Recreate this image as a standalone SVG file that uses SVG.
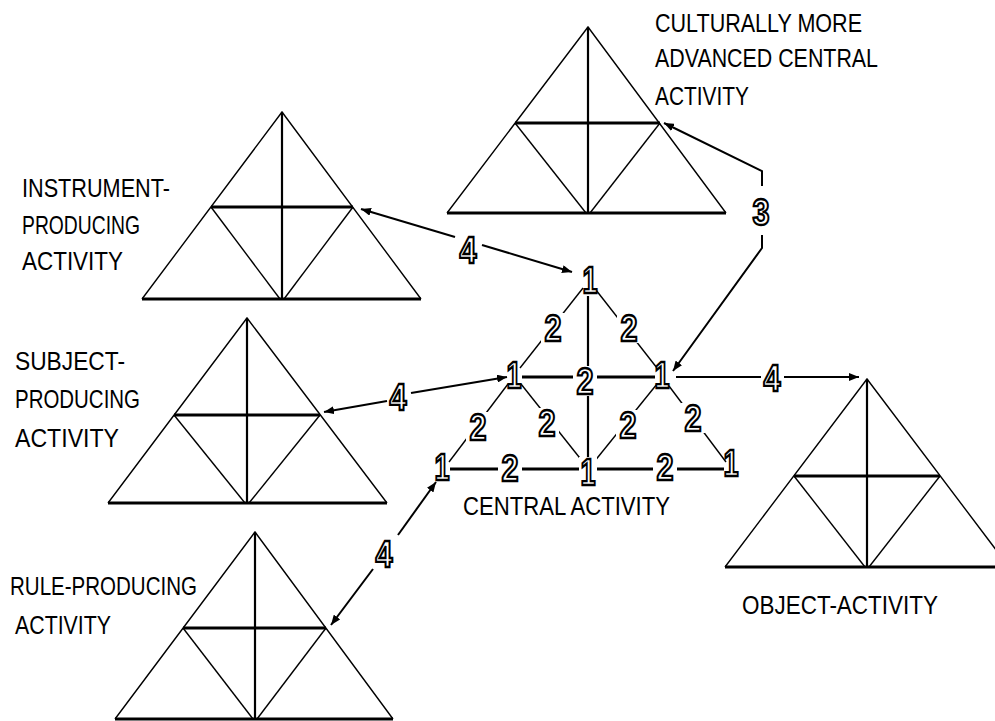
<svg xmlns="http://www.w3.org/2000/svg" width="995" height="721" viewBox="0 0 995 721">
<style>
.side{fill:none;stroke:#000;stroke-width:1.4}
.thin{stroke:#000;stroke-width:1.4}
.thick{stroke:#000;stroke-width:2.8}
.vert{stroke:#000;stroke-width:2.2}
.conn{fill:none;stroke:#000;stroke-width:2}
.lbl{font-family:"Liberation Sans Narrow","Liberation Sans",Arial,sans-serif;font-size:25px;fill:#000}
.num{font-family:"Liberation Sans",Arial,sans-serif;font-size:36px;font-weight:bold;fill:#fff;stroke:#000;stroke-width:2.3;text-anchor:middle}
.gap{fill:#fff}
</style>
<defs>
<marker id="ah" markerUnits="userSpaceOnUse" markerWidth="10" markerHeight="8" refX="10" refY="4" orient="auto-start-reverse">
<path d="M0,0 L10,4 L0,8 z" fill="#000"/>
</marker>
</defs>
<rect width="995" height="721" fill="#fff"/>

<g id="cultural">
<polyline class="side" points="447,213 588,27 726,213"/>
<line class="thick" x1="447" y1="213" x2="726" y2="213"/>
<line class="thick" x1="515" y1="123" x2="660" y2="123"/>
<line class="vert" x1="588" y1="27" x2="588" y2="213"/>
<line class="thin" x1="515" y1="123" x2="586" y2="213"/>
<line class="thin" x1="660" y1="123" x2="590" y2="213"/>
<text class="lbl" x="655" y="32" textLength="207" lengthAdjust="spacingAndGlyphs">CULTURALLY MORE</text>
<text class="lbl" x="655" y="67" textLength="223" lengthAdjust="spacingAndGlyphs">ADVANCED CENTRAL</text>
<text class="lbl" x="655" y="105" textLength="94" lengthAdjust="spacingAndGlyphs">ACTIVITY</text>
</g>

<g id="instrument">
<polyline class="side" points="142,299 282,112 421,299"/>
<line class="thick" x1="142" y1="299" x2="421" y2="299"/>
<line class="thick" x1="211" y1="207" x2="353" y2="207"/>
<line class="vert" x1="282" y1="112" x2="282" y2="299"/>
<line class="thin" x1="211" y1="207" x2="280" y2="299"/>
<line class="thin" x1="353" y1="207" x2="284" y2="299"/>
<text class="lbl" x="22" y="197" textLength="148" lengthAdjust="spacingAndGlyphs">INSTRUMENT-</text>
<text class="lbl" x="22" y="234" textLength="118" lengthAdjust="spacingAndGlyphs">PRODUCING</text>
<text class="lbl" x="22" y="270" textLength="101" lengthAdjust="spacingAndGlyphs">ACTIVITY</text>
</g>

<g id="subject">
<polyline class="side" points="108,503 247,318 387,503"/>
<line class="thick" x1="108" y1="503" x2="387" y2="503"/>
<line class="thick" x1="174" y1="415" x2="320" y2="415"/>
<line class="vert" x1="247" y1="318" x2="247" y2="503"/>
<line class="thin" x1="174" y1="415" x2="245" y2="503"/>
<line class="thin" x1="320" y1="415" x2="249" y2="503"/>
<text class="lbl" x="15" y="370" textLength="110" lengthAdjust="spacingAndGlyphs">SUBJECT-</text>
<text class="lbl" x="15" y="408" textLength="125" lengthAdjust="spacingAndGlyphs">PRODUCING</text>
<text class="lbl" x="15" y="447" textLength="104" lengthAdjust="spacingAndGlyphs">ACTIVITY</text>
</g>

<g id="rule">
<polyline class="side" points="115,719 255,532 393,719"/>
<line class="thick" x1="115" y1="719" x2="393" y2="719"/>
<line class="thick" x1="183" y1="628" x2="326" y2="628"/>
<line class="vert" x1="255" y1="532" x2="255" y2="719"/>
<line class="thin" x1="183" y1="628" x2="253" y2="719"/>
<line class="thin" x1="326" y1="628" x2="257" y2="719"/>
<text class="lbl" x="10" y="595" textLength="187" lengthAdjust="spacingAndGlyphs">RULE-PRODUCING</text>
<text class="lbl" x="15" y="634" textLength="96" lengthAdjust="spacingAndGlyphs">ACTIVITY</text>
</g>

<g id="object">
<polyline class="side" points="725,567 867,379 1009,567"/>
<line class="thick" x1="725" y1="567" x2="995" y2="567"/>
<line class="thick" x1="794" y1="476" x2="940" y2="476"/>
<line class="vert" x1="867" y1="379" x2="867" y2="567"/>
<line class="thin" x1="794" y1="476" x2="865" y2="567"/>
<line class="thin" x1="940" y1="476" x2="869" y2="567"/>
<text class="lbl" x="742" y="614" textLength="196" lengthAdjust="spacingAndGlyphs">OBJECT-ACTIVITY</text>
</g>

<g id="central">
<line class="vert" x1="588" y1="296" x2="588" y2="462"/>
<line class="thick" x1="522" y1="377" x2="655" y2="377"/>
<line class="thick" x1="450" y1="469" x2="724" y2="469"/>
<line class="thin" x1="583" y1="288" x2="520" y2="368"/>
<line class="thin" x1="596" y1="290" x2="657" y2="368"/>
<line class="thin" x1="508" y1="384" x2="449" y2="462"/>
<line class="thin" x1="521" y1="384" x2="583" y2="462"/>
<line class="thin" x1="657" y1="384" x2="594" y2="462"/>
<line class="thin" x1="669" y1="386" x2="726" y2="462"/>
<rect class="gap" x="541" y="313" width="24" height="30"/>
<rect class="gap" x="617" y="313" width="24" height="30"/>
<rect class="gap" x="573" y="366" width="24" height="30"/>
<rect class="gap" x="466" y="412" width="24" height="30"/>
<rect class="gap" x="535" y="408" width="24" height="30"/>
<rect class="gap" x="616" y="410" width="24" height="30"/>
<rect class="gap" x="681" y="403" width="24" height="30"/>
<rect class="gap" x="498" y="453" width="24" height="30"/>
<rect class="gap" x="653" y="452" width="24" height="30"/>
<rect class="gap" x="579" y="457" width="18" height="30"/>
<text class="num" x="590" y="293" textLength="15" lengthAdjust="spacingAndGlyphs">1</text>
<text class="num" x="514" y="388" textLength="15" lengthAdjust="spacingAndGlyphs">1</text>
<text class="num" x="662" y="388" textLength="15" lengthAdjust="spacingAndGlyphs">1</text>
<text class="num" x="442" y="480" textLength="15" lengthAdjust="spacingAndGlyphs">1</text>
<text class="num" x="588" y="485" textLength="15" lengthAdjust="spacingAndGlyphs">1</text>
<text class="num" x="731" y="476" textLength="15" lengthAdjust="spacingAndGlyphs">1</text>
<text class="num" x="553" y="341" textLength="17" lengthAdjust="spacingAndGlyphs">2</text>
<text class="num" x="629" y="341" textLength="17" lengthAdjust="spacingAndGlyphs">2</text>
<text class="num" x="585" y="394" textLength="17" lengthAdjust="spacingAndGlyphs">2</text>
<text class="num" x="478" y="440" textLength="17" lengthAdjust="spacingAndGlyphs">2</text>
<text class="num" x="547" y="436" textLength="17" lengthAdjust="spacingAndGlyphs">2</text>
<text class="num" x="628" y="438" textLength="17" lengthAdjust="spacingAndGlyphs">2</text>
<text class="num" x="693" y="431" textLength="17" lengthAdjust="spacingAndGlyphs">2</text>
<text class="num" x="510" y="481" textLength="17" lengthAdjust="spacingAndGlyphs">2</text>
<text class="num" x="665" y="480" textLength="17" lengthAdjust="spacingAndGlyphs">2</text>
<text class="lbl" x="463" y="515" textLength="207" lengthAdjust="spacingAndGlyphs">CENTRAL ACTIVITY</text>
</g>

<g id="connectors">
<path class="conn" d="M664,123 L762,171 L762,186" marker-start="url(#ah)"/>
<path class="conn" d="M762,235 L762,248 L673,371" marker-end="url(#ah)"/>
<text class="num" x="761" y="225" textLength="17" lengthAdjust="spacingAndGlyphs">3</text>
<path class="conn" d="M361,209 L455,237" marker-start="url(#ah)"/>
<path class="conn" d="M482,245 L572,272" marker-end="url(#ah)"/>
<text class="num" x="468" y="263" textLength="17" lengthAdjust="spacingAndGlyphs">4</text>
<path class="conn" d="M324,412 L387,401" marker-start="url(#ah)"/>
<path class="conn" d="M411,393 L507,377" marker-end="url(#ah)"/>
<text class="num" x="398" y="410" textLength="17" lengthAdjust="spacingAndGlyphs">4</text>
<path class="conn" d="M436,482 L398,535" marker-start="url(#ah)"/>
<path class="conn" d="M373,569 L331,625" marker-end="url(#ah)"/>
<text class="num" x="384" y="567" textLength="17" lengthAdjust="spacingAndGlyphs">4</text>
<path class="conn" d="M676,377 L761,377"/>
<path class="conn" d="M784,377 L859,377" marker-end="url(#ah)"/>
<text class="num" x="772" y="391" textLength="17" lengthAdjust="spacingAndGlyphs">4</text>
</g>
</svg>
